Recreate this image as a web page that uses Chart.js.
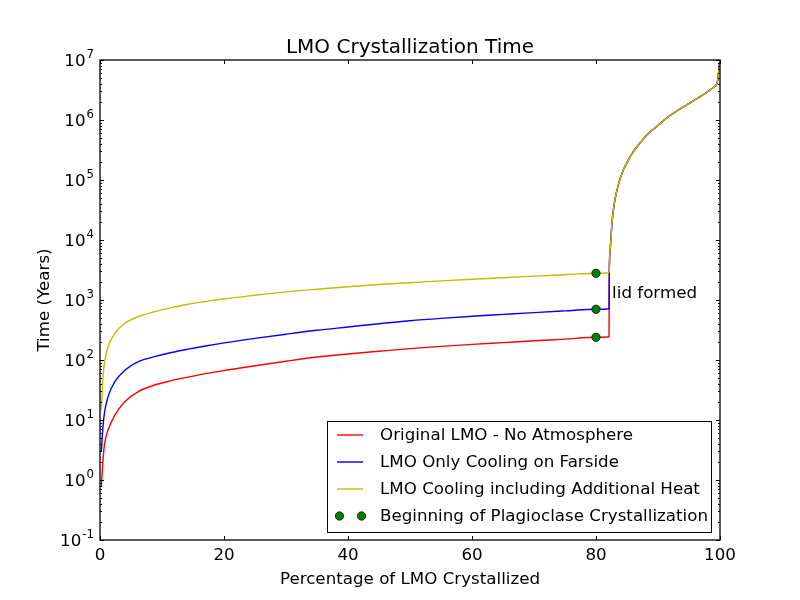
<!DOCTYPE html>
<html>
<head>
<meta charset="utf-8">
<title>LMO Crystallization Time</title>
<script src="https://cdn.jsdelivr.net/npm/chart.js"></script>
<style>
  html, body { margin: 0; padding: 0; background: #fff; }
  canvas { display: block; }
</style>
</head>
<body>
<canvas id="lmo_chart" width="800" height="600"></canvas>
<script>
// percentage crystallized, up to the moment the lid forms
const preX = [0.22, 0.48, 0.75, 1.3, 2.4, 4, 6.1, 8.8, 11.5, 14.2, 17, 20, 25, 30, 35, 40, 45, 50, 55, 60, 65, 70, 75, 80, 82.1];
const redPre = [0.78, 2.15, 4.07, 6.8, 12.1, 20.2, 29.5, 38.3, 45.2, 51.9, 59.2, 66.8, 80.4, 95.5, 112, 126, 140, 155, 169, 182, 195, 209, 223, 239, 244];
const bluePre = [2.95, 7.76, 13.8, 24.5, 43.6, 67.6, 93.3, 113.5, 133.4, 152, 171.4, 192.8, 229, 269, 313, 355, 403, 452, 495, 535, 575, 617, 658, 700, 716];
const yellowPre = [14.8, 52.5, 93.3, 166, 279, 407, 525, 638, 745, 851, 944, 1047, 1202, 1365, 1514, 1667, 1811, 1941, 2080, 2218, 2355, 2495, 2636, 2786, 2851];

// after the lid forms all three runs follow the same curve
const postX = [82.15, 82.25, 82.4, 82.55, 82.8, 83.1, 83.6, 84, 84.4, 84.9, 85.4, 86, 86.8, 87.6, 88.6, 89.8, 91, 92, 93.2, 94.6, 95.7, 96.8, 97.7, 98.4, 99, 99.5, 99.7, 99.8, 99.97];
const postY = [3200, 6000, 10000, 17800, 31600, 50000, 83000, 112000, 145000, 186000, 234000, 295000, 380000, 479000, 617000, 776000, 1000000, 1200000, 1450000, 1780000, 2090000, 2450000, 2820000, 3160000, 3550000, 4070000, 5200000, 6760000, 9300000];

// beginning of plagioclase crystallization
const plagX = [80, 80, 80];
const plagY = [239, 700, 2786];

const xTicks = [0, 20, 40, 60, 80, 100];
const yDecades = [-1, 0, 1, 2, 3, 4, 5, 6, 7];

const seriesNames = [
  "Original LMO - No Atmosphere",
  "LMO Only Cooling on Farside",
  "LMO Cooling including Additional Heat",
  "Beginning of Plagioclase Crystallization",
];

const FONT = "'DejaVu Sans', sans-serif";
const RED = "#ff0000";
const BLUE = "#0000ff";
const YELLOW = "#bfbf00";
const GREEN = "#008000";

function toPoints(xs, ys) {
  return xs.map((x, i) => ({ x: x, y: ys[i] }));
}

function runPoints(pre) {
  return toPoints(preX, pre).concat(toPoints(postX, postY));
}

const decorations = {
  id: "decorations",
  afterDraw(chart) {
    const ctx = chart.ctx;
    const a = chart.chartArea;
    const xs = chart.scales.x;
    const ys = chart.scales.y;
    ctx.save();

    // ticks pointing inwards on all four sides
    ctx.strokeStyle = "#000";
    ctx.lineWidth = 1;
    ctx.beginPath();
    xTicks.forEach((v) => {
      const px = Math.round(xs.getPixelForValue(v)) + 0.5;
      ctx.moveTo(px, a.bottom); ctx.lineTo(px, a.bottom - 4);
      ctx.moveTo(px, a.top); ctx.lineTo(px, a.top + 4);
    });
    yDecades.forEach((e) => {
      const py = Math.round(ys.getPixelForValue(Math.pow(10, e))) + 0.5;
      ctx.moveTo(a.left, py); ctx.lineTo(a.left + 4, py);
      ctx.moveTo(a.right, py); ctx.lineTo(a.right - 4, py);
      if (e < 7) {
        for (let k = 2; k <= 9; k++) {
          const pm = Math.round(ys.getPixelForValue(k * Math.pow(10, e))) + 0.5;
          ctx.moveTo(a.left, pm); ctx.lineTo(a.left + 2, pm);
          ctx.moveTo(a.right, pm); ctx.lineTo(a.right - 2, pm);
        }
      }
    });
    ctx.stroke();

    // frame
    ctx.lineWidth = 1.3;
    ctx.strokeRect(a.left, a.top, a.right - a.left, a.bottom - a.top);

    // x tick labels
    ctx.fillStyle = "#000";
    ctx.font = "16.7px " + FONT;
    ctx.textAlign = "center";
    ctx.textBaseline = "alphabetic";
    xTicks.forEach((v) => {
      ctx.fillText(String(v), xs.getPixelForValue(v), a.bottom + 20);
    });

    // y tick labels as 10 with a raised exponent
    yDecades.forEach((e) => {
      const py = ys.getPixelForValue(Math.pow(10, e));
      const exp = String(e);
      ctx.textAlign = "right";
      ctx.font = "11.7px " + FONT;
      ctx.fillText(exp, a.left - 6, py - 2.5);
      const w = ctx.measureText(exp).width;
      ctx.font = "16.7px " + FONT;
      ctx.fillText("10", a.left - 6 - w - 1, py + 6);
    });

    // axis titles and chart title
    ctx.textAlign = "center";
    ctx.font = "16.7px " + FONT;
    ctx.fillText("Percentage of LMO Crystallized", (a.left + a.right) / 2, 584);
    ctx.save();
    ctx.translate(49, (a.top + a.bottom) / 2);
    ctx.rotate(-Math.PI / 2);
    ctx.fillText("Time (Years)", 0, 0);
    ctx.restore();
    ctx.font = "20px " + FONT;
    ctx.fillText("LMO Crystallization Time", (a.left + a.right) / 2, 53);

    // annotation
    ctx.font = "16.7px " + FONT;
    ctx.textAlign = "left";
    ctx.fillText("lid formed", xs.getPixelForValue(82.6), ys.getPixelForValue(1080));

    // legend box
    const box = { left: 327.5, top: 421.5, right: 711.5, bottom: 532.5 };
    ctx.fillStyle = "#fff";
    ctx.fillRect(box.left, box.top, box.right - box.left, box.bottom - box.top);
    ctx.strokeStyle = "#000";
    ctx.lineWidth = 1;
    ctx.strokeRect(box.left, box.top, box.right - box.left, box.bottom - box.top);
    const rows = [435, 462, 489, 516];
    const colors = [RED, BLUE, YELLOW];
    ctx.lineWidth = 1.4;
    colors.forEach((c, i) => {
      ctx.strokeStyle = c;
      ctx.beginPath();
      ctx.moveTo(337, rows[i]);
      ctx.lineTo(363, rows[i]);
      ctx.stroke();
    });
    [339.5, 361.5].forEach((mx) => {
      ctx.beginPath();
      ctx.arc(mx, rows[3], 4.2, 0, Math.PI * 2);
      ctx.fillStyle = GREEN;
      ctx.fill();
      ctx.strokeStyle = "#000";
      ctx.lineWidth = 0.7;
      ctx.stroke();
    });
    ctx.fillStyle = "#000";
    ctx.font = "16.7px " + FONT;
    ctx.textAlign = "left";
    ctx.textBaseline = "middle";
    seriesNames.forEach((name, i) => {
      ctx.fillText(name, 380, rows[i] + 1);
    });

    ctx.restore();
  },
};

function lmoChart() {
  const ctx = document.getElementById("lmo_chart").getContext("2d");
  const line = (label, color, pre, order) => ({
    label: label,
    data: runPoints(pre),
    borderColor: color,
    backgroundColor: color,
    borderWidth: 1.4,
    pointRadius: 0,
    fill: false,
    cubicInterpolationMode: "monotone",
    order: order,
  });
  return new Chart(ctx, {
    type: "line",
    data: {
      datasets: [
        line(seriesNames[0], RED, redPre, 3),
        line(seriesNames[1], BLUE, bluePre, 2),
        line(seriesNames[2], YELLOW, yellowPre, 1),
        {
          label: seriesNames[3],
          data: toPoints(plagX, plagY),
          showLine: false,
          pointRadius: 4.2,
          pointBackgroundColor: GREEN,
          pointBorderColor: "#000",
          pointBorderWidth: 0.7,
          order: 0,
        },
      ],
    },
    options: {
      responsive: false,
      animation: false,
      devicePixelRatio: 1,
      layout: { padding: { left: 100, right: 80, top: 60, bottom: 60 } },
      plugins: {
        legend: { display: false },
        title: { display: false },
        tooltip: { enabled: false },
      },
      scales: {
        x: { type: "linear", min: 0, max: 100, display: false },
        y: { type: "logarithmic", min: 0.1, max: 1e7, display: false },
      },
    },
    plugins: [decorations],
  });
}

lmoChart();
</script>
</body>
</html>
